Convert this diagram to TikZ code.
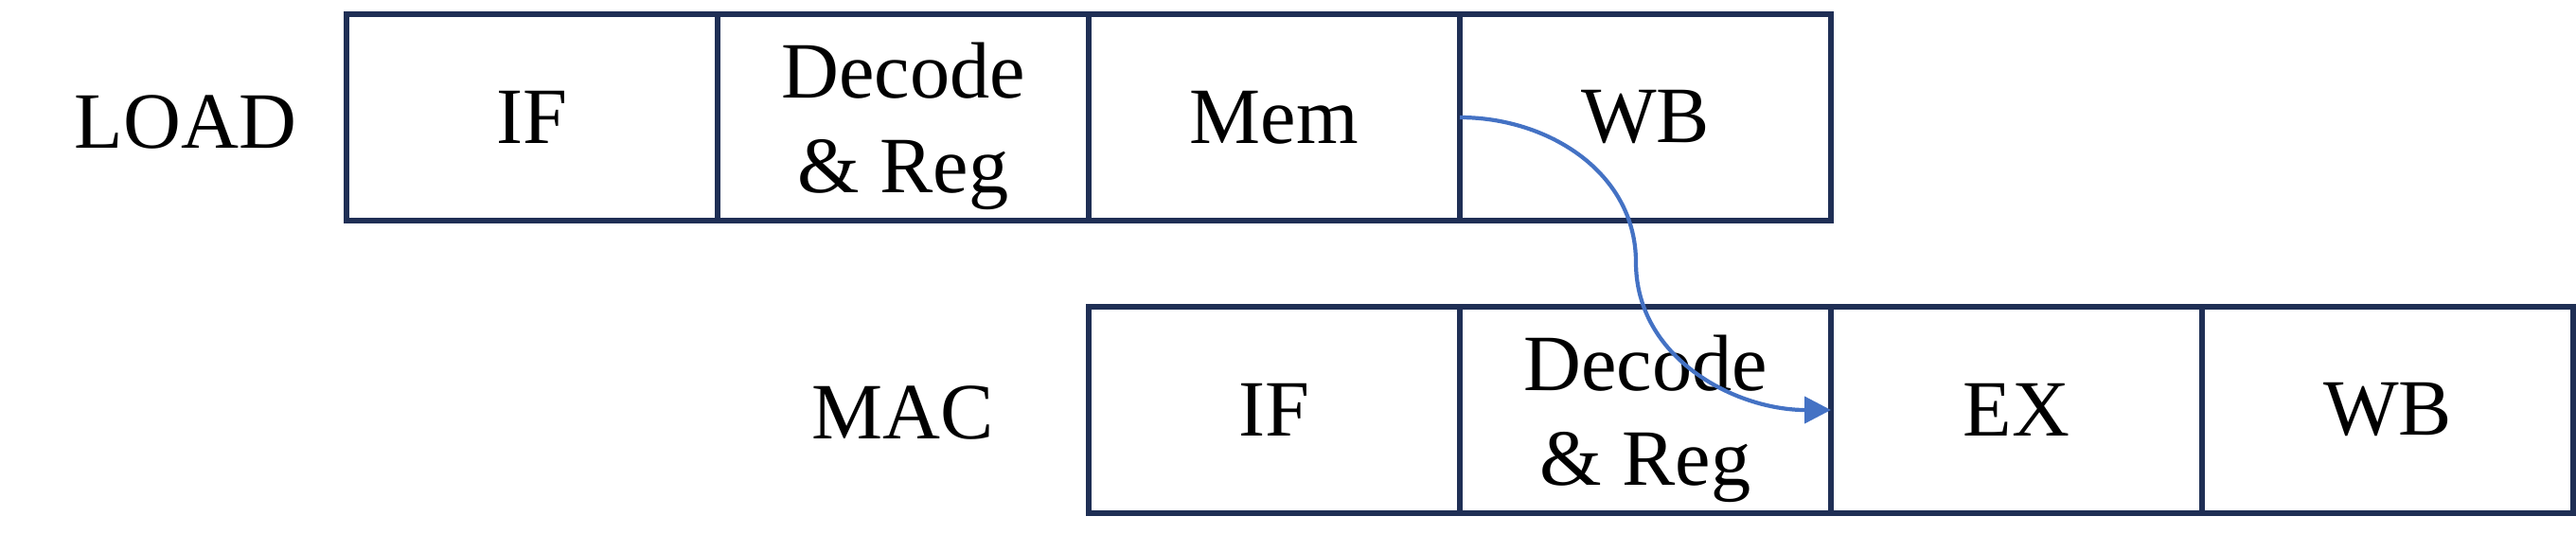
\documentclass[tikz,border=0pt]{standalone}
\usepackage{fontspec}
\setmainfont{Liberation Serif}
\usetikzlibrary{arrows.meta,positioning}
\definecolor{stageEdge}{HTML}{1F2F55}
\definecolor{fwdBlue}{HTML}{4472C4}

\begin{document}
\begin{tikzpicture}[
  font=\fontsize{24}{28.5}\selectfont,
  node distance=0pt,
  stage/.style={
    rectangle, draw=stageEdge, line width=1.5pt, outer sep=0pt,
    minimum width=39.2mm, minimum height=21.8mm, inner sep=0pt,
    align=center, text=black},
  instr/.style={inner sep=0pt, text=black},
  fwd/.style={-{Triangle[length=2.8mm,width=2.8mm]}, line width=1.2pt,
              draw=fwdBlue},
]
\useasboundingbox (0,0) rectangle (27.21,-5.82);

% =============================== LOAD ======================================
\node[instr]               at (1.96,-1.29)  (load)    {LOAD};
\node[stage]               at (5.62,-1.24)  (loadif)  {IF};
\node[stage, right=of loadif]               (loaddec) {\rule{0pt}{22pt}Decode\\\& Reg};
\node[stage, right=of loaddec]              (loadmem) {Mem};
\node[stage, right=of loadmem]              (loadwb)  {WB};

% =============================== MAC =======================================
\node[instr]               at (9.54,-4.36)  (mac)     {MAC};
\node[stage]               at (13.46,-4.33) (macif)   {IF};
\node[stage, right=of macif]                (macdec)  {\rule{0pt}{22pt}Decode\\\& Reg};
\node[stage, right=of macdec]               (macex)   {EX};
\node[stage, right=of macex]                (macwb)   {WB};

% =============================== forwarding ================================
% Mem result -> EX of the MAC
\draw[fwd] (loadmem.east) to[out=0, in=90] (17.28,-2.77)
  to[out=-90, in=180] (macex.west);

\end{tikzpicture}
\end{document}
